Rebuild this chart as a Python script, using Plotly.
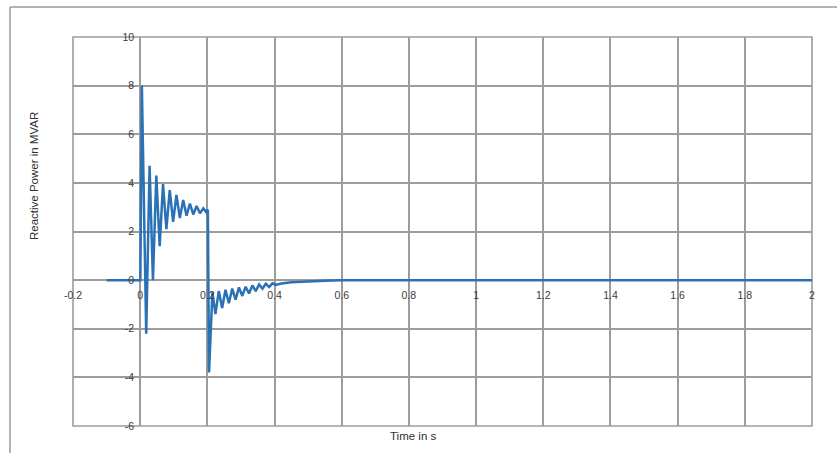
import plotly.graph_objects as go

# Time (s) and reactive power (MVAR)
time_s = [-0.1, 0.0, 0.0005, 0.005, 0.018, 0.028, 0.038, 0.048, 0.058, 0.068, 0.078,
          0.088, 0.098, 0.108, 0.118, 0.128, 0.138, 0.148, 0.158, 0.168, 0.178,
          0.188, 0.196, 0.2, 0.2015, 0.205, 0.215, 0.224, 0.234, 0.244, 0.254,
          0.264, 0.274, 0.284, 0.294, 0.304, 0.314, 0.324, 0.334, 0.344, 0.354,
          0.364, 0.374, 0.384, 0.394, 0.404, 0.42, 0.45, 0.5, 0.55, 0.6, 0.7, 1.0, 1.5, 2.0]
q_mvar = [0.0, 0.0, 0.0, 8.0, -2.2, 4.7, 0.0, 4.3, 1.4, 3.95, 2.1,
          3.7, 2.4, 3.5, 2.55, 3.3, 2.65, 3.15, 2.7, 3.05, 2.75,
          2.95, 2.8, 2.9, 2.85, -3.8, -0.5, -1.4, -0.45, -1.15, -0.4,
          -0.95, -0.35, -0.8, -0.3, -0.65, -0.27, -0.55, -0.22, -0.45, -0.18,
          -0.35, -0.15, -0.28, -0.13, -0.2, -0.14, -0.09, -0.05, -0.025, -0.01, 0.0, 0.0, 0.0, 0.0]

x_ticks = [-0.2, 0, 0.2, 0.4, 0.6, 0.8, 1, 1.2, 1.4, 1.6, 1.8, 2]
x_labels = ["-0.2", "0", "0.2", "0.4", "0.6", "0.8", "1", "1.2", "1.4", "1.6", "1.8", "2"]
y_ticks = [-6, -4, -2, 0, 2, 4, 6, 8, 10]
y_labels = ["-6", "-4", "-2", "0", "2", "4", "6", "8", "10"]

x_range = [-0.2, 2]
y_range = [-6, 10]

W, H = 837, 453
L, R, T, B = 73, 25, 37, 27
pw, ph = W - L - R, H - T - B

grid = "#9c9c9c"
tick_font = dict(family="Liberation Sans, Arial, sans-serif", size=10.5, color="#3a3a3a")
title_font = dict(family="Liberation Sans, Arial, sans-serif", size=11.5, color="#303030")

fig = go.Figure()
fig.add_trace(go.Scatter(x=time_s, y=q_mvar, mode="lines",
                         line=dict(color="#2a72b5", width=2.5), showlegend=False))

# axes crossing at the origin
x_pos = (0 - y_range[0]) / (y_range[1] - y_range[0])
y_pos = (0 - x_range[0]) / (x_range[1] - x_range[0])

fig.update_layout(
    width=W, height=H,
    margin=dict(l=L, r=R, t=T, b=B),
    paper_bgcolor="white", plot_bgcolor="white",
    font=tick_font,
    xaxis=dict(range=x_range, tickvals=x_ticks, ticktext=x_labels,
               showgrid=True, gridcolor=grid, gridwidth=1.6, zeroline=False,
               showline=False, ticks="", anchor="free", position=x_pos,
               domain=[0, 1], tickfont=tick_font, ticklabelstandoff=7),
    yaxis=dict(range=y_range, tickvals=y_ticks, ticktext=y_labels,
               showgrid=True, gridcolor=grid, gridwidth=1.6, zeroline=False,
               showline=False, ticks="", anchor="free", position=y_pos,
               domain=[0, 1], tickfont=tick_font, ticklabelstandoff=6),
)

# plot-area frame
fig.add_shape(type="rect", xref="paper", yref="paper", x0=0, x1=1, y0=0, y1=1,
              line=dict(color=grid, width=1.6), layer="below")

# outer chart frame (top and left edges)
fx = (10 - L) / pw
fy = (H - B - 7) / ph
fig.add_shape(type="line", xref="paper", yref="paper", x0=fx, x1=(W + 10 - L) / pw,
              y0=fy, y1=fy, line=dict(color="#9a9a9a", width=1.5))
fig.add_shape(type="line", xref="paper", yref="paper", x0=fx, x1=fx,
              y0=fy, y1=(H - B - (H + 10)) / ph, line=dict(color="#9a9a9a", width=1.5))

# axis titles
fig.add_annotation(text="Time in s", xref="paper", yref="paper",
                   x=(413 - L) / pw, y=(H - B - 436) / ph, showarrow=False,
                   font=title_font, xanchor="center", yanchor="middle")
fig.add_annotation(text="Reactive Power in MVAR", xref="paper", yref="paper",
                   x=(34 - L) / pw, y=(H - B - 176) / ph, showarrow=False,
                   textangle=-90, font=title_font, xanchor="center", yanchor="middle")

fig.write_html("out.html")
